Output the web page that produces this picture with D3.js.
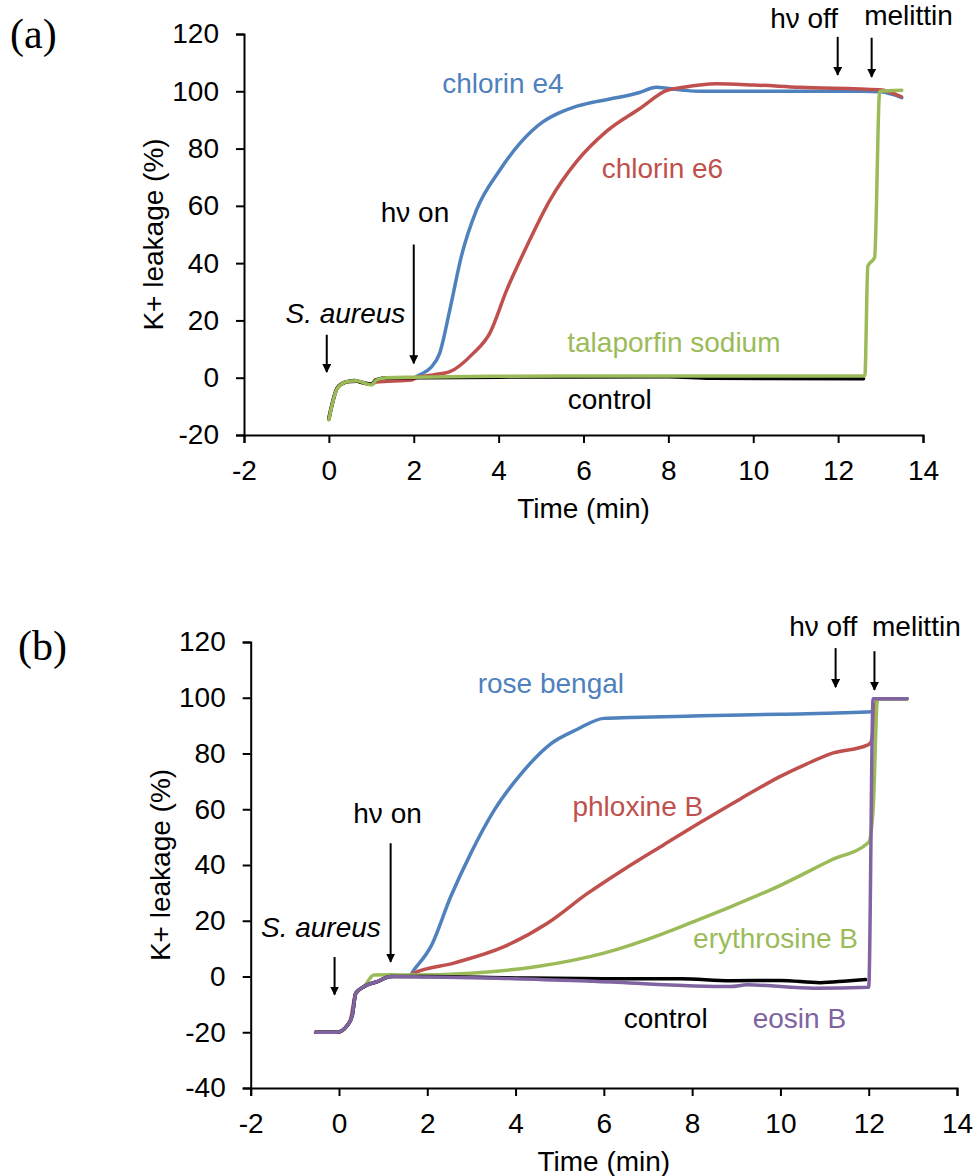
<!DOCTYPE html>
<html>
<head>
<meta charset="utf-8">
<script src="https://cdn.jsdelivr.net/npm/d3@7"></script>
<style>
  body { margin: 0; background: #fff; }
  svg { display: block; font-family: "Liberation Sans", Arial, sans-serif; }
</style>
</head>
<body>
<svg id="chart" width="974" height="1176"></svg>
<script>
// ---- panel (a) data: [time (min), K+ leakage (%)]
const chlorinE4 = [[0,-14],[0.2,-3.5],[0.4,-1.5],[0.65,-1.2],[1.0,-2.2],[1.15,-0.9],[1.4,-0.3],[2.0,0],[2.14,1],[2.4,3.5],[2.61,8.5],[2.85,23.7],[3.12,42.3],[3.48,58.6],[4.03,72.5],[4.5,81.8],[5.05,89.4],[5.4,92.3],[5.76,94.4],[6.3,96.4],[6.8,97.8],[7.3,99.5],[7.72,101.4],[8.0,101],[8.35,100.4],[8.74,100],[10,100],[12.6,100],[13,99.8],[13.5,97.8]];
const chlorinE6 = [[0,-14],[0.2,-3.5],[0.4,-1.5],[0.65,-1.2],[1.0,-2.2],[1.12,-1.5],[1.95,-0.8],[2.06,0],[2.46,1],[2.85,2.1],[3.4,8.5],[3.79,15.5],[4.19,30.6],[4.66,45.8],[5.21,62],[5.84,75.5],[6.54,86],[7.33,94],[7.95,100.2],[8.4,101.5],[8.74,102.2],[9.13,102.6],[10,102.2],[11.1,101.4],[12.98,100.5],[13.49,98.1]];
const controlA = [[0,-14.5],[0.1,-8],[0.2,-3.5],[0.4,-1.5],[0.6,-1],[0.8,-1.8],[1.0,-2.3],[1.1,-0.8],[1.4,0],[2,0],[4,0.2],[8,0.3],[9,-0.2],[12.6,-0.4]];
const talaporfin = [[0,-14.7],[0.1,-8],[0.2,-3.7],[0.42,-1.4],[0.65,-1.1],[1.0,-2.5],[1.12,-0.8],[1.36,0],[2,0.2],[4,0.5],[8,0.6],[12.63,0.6],[12.7,39],[12.86,42],[12.98,100],[13.5,100.4]];

// ---- panel (b) data
const roseBengal = [[-0.53,-20],[-0.04,-20],[0.19,-17.5],[0.3,-14],[0.38,-6],[0.57,-3.6],[0.87,-1.8],[1.17,0],[1.6,0.3],[1.7,2.4],[2.08,10.7],[2.53,28.6],[2.98,44],[3.51,59.5],[4.12,72.6],[4.79,83.4],[5.4,88.7],[6.0,92.6],[6.6,92.9],[8.2,93.5],[10,94.1],[12.08,95],[12.23,99.6],[12.87,99.6]];
const phloxineB = [[-0.53,-20],[-0.04,-20],[0.19,-17.5],[0.26,-15.5],[0.38,-6],[0.57,-3.6],[0.87,-1.8],[1.17,0],[1.6,0.3],[1.7,1.2],[2.6,4.8],[3.74,10.7],[4.72,19.1],[5.63,29.8],[6.46,38.5],[7.36,47.3],[8.19,55.3],[9.1,63.8],[10,71.8],[10.6,76.3],[11.2,80.2],[11.97,83],[12.05,84],[12.2,99.6],[12.87,99.6]];
const erythrosineB = [[-0.53,-20],[-0.04,-20],[0.19,-17.5],[0.3,-14],[0.38,-6],[0.57,-3.6],[0.79,0.5],[1.17,0.6],[1.6,0.5],[2.98,1.2],[4.49,3.6],[6.0,8.4],[7.36,15.5],[8.0,19.5],[8.87,25],[10,32.7],[11.14,41.7],[12.0,48.2],[12.1,60],[12.2,99.6],[12.87,99.6]];
const controlB = [[-0.53,-20],[-0.04,-20],[0.19,-17.5],[0.3,-14],[0.38,-6],[0.57,-3.6],[0.87,-1.8],[1.17,0],[2,0],[4,-0.5],[6,-0.8],[7.74,-0.8],[8.87,-1.5],[10,-1.4],[10.9,-2.2],[11.5,-1.6],[11.93,-1.1]];
const eosinB = [[-0.53,-20],[-0.04,-20],[0.19,-17.5],[0.3,-14],[0.38,-6],[0.57,-3.6],[0.87,-1.8],[1.17,0],[2,-0.2],[3.59,-0.6],[5.85,-1.8],[8.87,-3.6],[9.25,-3],[10.76,-4.2],[12.0,-3.9],[12.1,99.6],[12.87,99.6]];

const xTicks = [-2, 0, 2, 4, 6, 8, 10, 12, 14];
const yTicksA = [-20, 0, 20, 40, 60, 80, 100, 120];
const yTicksB = [-40, -20, 0, 20, 40, 60, 80, 100, 120];

const BLUE = "#4f81bd", RED = "#c0504d", GREEN = "#9bbb59", PURPLE = "#8064a2", BLACK = "#000";

const svg = d3.select("#chart");

const panels = [
    {
        letter: "(a)", letterPos: [10, 48],
        xRange: [244, 923], yRange: [435, 34], yDomain: [-20, 120], yTicks: yTicksA,
        series: [
            { data: chlorinE4, color: BLUE },
            { data: chlorinE6, color: RED },
            { data: controlA, color: BLACK },
            { data: talaporfin, color: GREEN },
        ],
        labels: [
            { text: "chlorin e4", t: 4.1, v: 99.4, color: BLUE },
            { text: "chlorin e6", t: 7.86, v: 69.7, color: RED },
            { text: "hν on", t: 2.03, v: 54.4, color: BLACK },
            { text: "S. aureus", t: 0.39, v: 19.2, color: BLACK, italic: true },
            { text: "talaporfin sodium", t: 8.13, v: 9.1, color: GREEN },
            { text: "control", t: 6.62, v: -10.9, color: BLACK },
            { text: "hν off", t: 11.2, v: 122.1, color: BLACK },
            { text: "melittin", t: 13.66, v: 123.1, color: BLACK },
        ],
        arrows: [
            { t: -0.05, from: 15, to: 2 },
            { t: 2.0, from: 46.5, to: 5 },
            { t: 11.99, from: 119, to: 105.7 },
            { t: 12.79, from: 118.7, to: 105 },
        ],
    },
    {
        letter: "(b)", letterPos: [18, 660],
        xRange: [250.7, 957], yRange: [1088, 642], yDomain: [-40, 120], yTicks: yTicksB,
        series: [
            { data: roseBengal, color: BLUE },
            { data: phloxineB, color: RED },
            { data: erythrosineB, color: GREEN },
            { data: controlB, color: BLACK },
            { data: eosinB, color: PURPLE },
        ],
        labels: [
            { text: "rose bengal", t: 4.8, v: 101.7, color: BLUE },
            { text: "phloxine B", t: 6.77, v: 57.75, color: RED },
            { text: "erythrosine B", t: 9.89, v: 10.25, color: GREEN },
            { text: "control", t: 7.4, v: -18.3, color: BLACK },
            { text: "eosin B", t: 10.43, v: -18.3, color: PURPLE },
            { text: "hν on", t: 1.1, v: 54.9, color: BLACK },
            { text: "S. aureus", t: -0.41, v: 14.3, color: BLACK, italic: true },
            { text: "hν off", t: 10.97, v: 122, color: BLACK },
            { text: "melittin", t: 13.08, v: 122, color: BLACK },
        ],
        arrows: [
            { t: -0.1, from: 7, to: -6.5 },
            { t: 1.17, from: 47.8, to: 5.25 },
            { t: 11.25, from: 117.8, to: 103.8 },
            { t: 12.13, from: 116.7, to: 102.8 },
        ],
    },
];

svg.append("defs").append("marker")
    .attr("id", "head")
    .attr("viewBox", "0 0 10 10")
    .attr("refX", 9).attr("refY", 5)
    .attr("markerWidth", 9).attr("markerHeight", 9)
    .attr("markerUnits", "userSpaceOnUse")
    .attr("orient", "auto")
    .append("path")
    .attr("d", "M0,0 L10,5 L0,10 Z")
    .attr("fill", "#000");

panels.forEach(p => {
    const x = d3.scaleLinear().domain([-2, 14]).range(p.xRange);
    const y = d3.scaleLinear().domain(p.yDomain).range(p.yRange);
    const g = svg.append("g");

    g.append("text")
        .attr("x", p.letterPos[0]).attr("y", p.letterPos[1])
        .attr("font-family", "'Liberation Serif', 'DejaVu Serif', serif")
        .attr("font-size", 42)
        .text(p.letter);

    const xAxis = g.append("g")
        .attr("transform", `translate(0,${p.yRange[0]})`)
        .call(d3.axisBottom(x).tickValues(xTicks).tickFormat(d => String(d))
            .tickSize(8).tickPadding(17).tickSizeOuter(8));
    const yAxis = g.append("g")
        .attr("transform", `translate(${p.xRange[0]},0)`)
        .call(d3.axisLeft(y).tickValues(p.yTicks).tickFormat(d => String(d))
            .tickSize(8).tickPadding(17).tickSizeOuter(8));

    [xAxis, yAxis].forEach(a => {
        a.select(".domain").attr("stroke", "#000").attr("stroke-width", 2);
        a.selectAll(".tick line").attr("stroke", "#000").attr("stroke-width", 2);
        a.selectAll(".tick text")
            .attr("font-family", "'Liberation Sans', Arial, sans-serif")
            .attr("font-size", 28).attr("fill", "#000");
    });

    g.append("text")
        .attr("x", (p.xRange[0] + p.xRange[1]) / 2)
        .attr("y", p.yRange[0] + 83)
        .attr("text-anchor", "middle")
        .attr("font-size", 28)
        .text("Time (min)");

    const cy = (p.yRange[0] + p.yRange[1]) / 2;
    g.append("text")
        .attr("transform", `translate(${p.xRange[0] - 81},${cy}) rotate(-90)`)
        .attr("text-anchor", "middle")
        .attr("font-size", 28)
        .text("K+ leakage (%)");

    const line = d3.line()
        .x(d => x(d[0]))
        .y(d => y(d[1]))
        .curve(d3.curveMonotoneX);

    g.selectAll(".series")
        .data(p.series)
        .join("path")
        .attr("d", d => line(d.data))
        .attr("fill", "none")
        .attr("stroke", d => d.color)
        .attr("stroke-width", 3.5)
        .attr("stroke-linejoin", "round")
        .attr("stroke-linecap", "round");

    g.selectAll(".arrow")
        .data(p.arrows)
        .join("line")
        .attr("x1", d => x(d.t)).attr("x2", d => x(d.t))
        .attr("y1", d => y(d.from)).attr("y2", d => y(d.to))
        .attr("stroke", "#000")
        .attr("stroke-width", 2)
        .attr("marker-end", "url(#head)");

    g.selectAll(".label")
        .data(p.labels)
        .join("text")
        .attr("x", d => x(d.t))
        .attr("y", d => y(d.v))
        .attr("text-anchor", "middle")
        .attr("font-size", 28)
        .attr("font-style", d => d.italic ? "italic" : null)
        .attr("fill", d => d.color)
        .text(d => d.text);
});
</script>
</body>
</html>
